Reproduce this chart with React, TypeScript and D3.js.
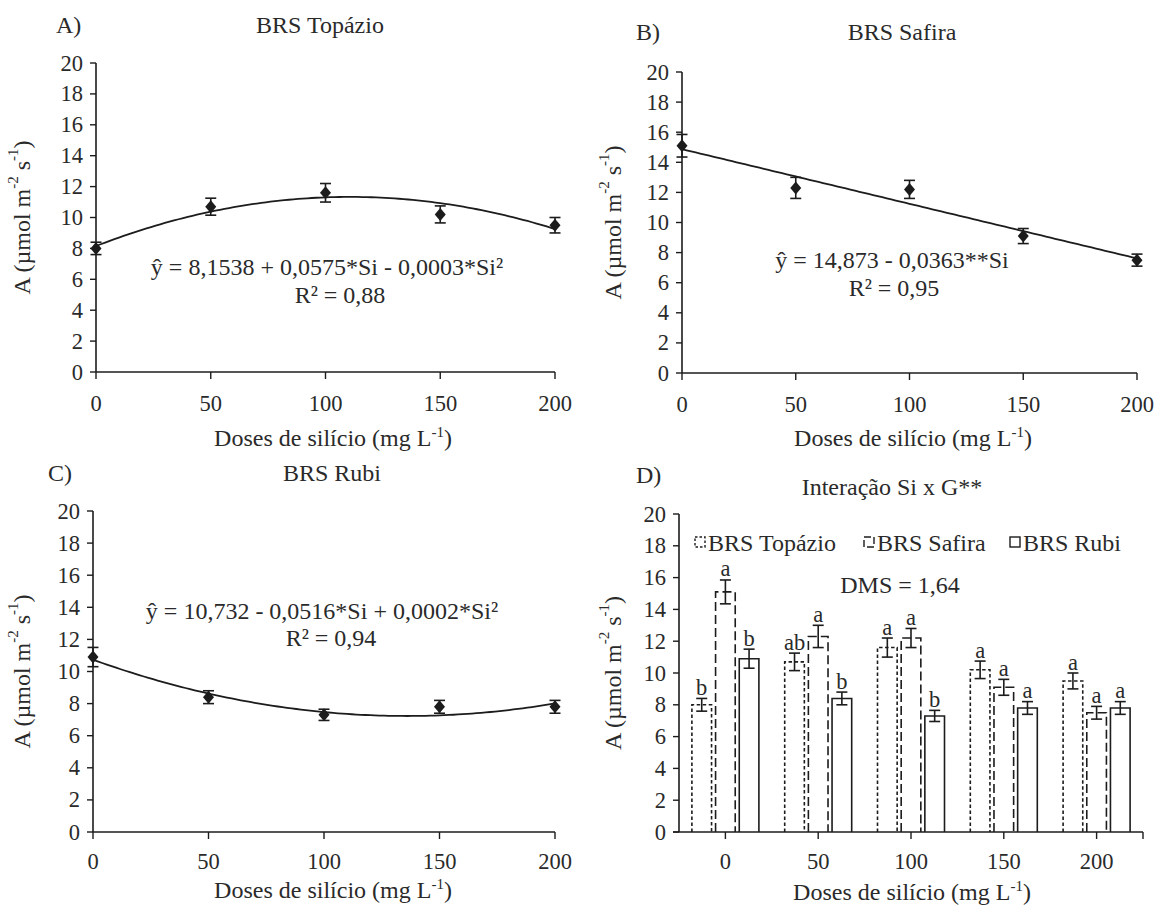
import React from "react";
import * as d3 from "d3";

const doses = [0, 50, 100, 150, 200];
const yTicks = [0, 2, 4, 6, 8, 10, 12, 14, 16, 18, 20];

const topazioMean = [8.0, 10.7, 11.6, 10.2, 9.5];
const topazioErr = [0.4, 0.55, 0.6, 0.55, 0.5];
const safiraMean = [15.1, 12.3, 12.2, 9.1, 7.5];
const safiraErr = [0.75, 0.7, 0.6, 0.5, 0.4];
const rubiMean = [10.9, 8.4, 7.3, 7.8, 7.8];
const rubiErr = [0.6, 0.4, 0.35, 0.4, 0.4];

const topazioLetters = ["b", "ab", "a", "a", "a"];
const safiraLetters = ["a", "a", "a", "a", "a"];
const rubiLetters = ["b", "b", "b", "a", "a"];

// fitted regression coefficients (a + b*Si + c*Si^2) used to draw the trend lines
const fitTopazio = [8.1538, 0.0575, -0.00026];
const fitSafira = [14.873, -0.0363, 0];
const fitRubi = [10.732, -0.0516, 0.00019];

const FONT = "'Liberation Serif', 'Times New Roman', serif";
const TXT = "#2a2a2a";
const LINE = "#1c1c1c";
const FS = 24;
const FT = 22.5;
const tStyle: React.CSSProperties = { fontFamily: FONT, fontSize: FS };
const tickStyle: React.CSSProperties = { fontFamily: FONT, fontSize: FT };

type Box = { x0: number; x1: number; yTop: number; yBot: number };

function YLabel({ x, y }: { x: number; y: number }) {
  return (
    <text
      transform={`translate(${x},${y}) rotate(-90)`}
      textAnchor="middle"
      style={tStyle}
      fill={TXT}
      dominantBaseline="middle"
    >
      A (µmol m
      <tspan style={{ fontSize: 15 }} dy={-9}>-2</tspan>
      <tspan dy={9}> s</tspan>
      <tspan style={{ fontSize: 15 }} dy={-9}>-1</tspan>
      <tspan dy={9}>)</tspan>
    </text>
  );
}

function XLabel({ x, y }: { x: number; y: number }) {
  return (
    <text x={x} y={y} textAnchor="middle" style={tStyle} fill={TXT}>
      Doses de silício (mg L
      <tspan style={{ fontSize: 15 }} dy={-9}>-1</tspan>
      <tspan dy={9}>)</tspan>
    </text>
  );
}

function YAxis({ y, x0 }: { y: d3.ScaleLinear<number, number>; x0: number }) {
  return (
    <g>
      <line x1={x0} x2={x0} y1={y(20)} y2={y(0)} stroke={LINE} strokeWidth={1.6} />
      {yTicks.map((t) => (
        <g key={t}>
          <line x1={x0 - 6} x2={x0} y1={y(t)} y2={y(t)} stroke={LINE} strokeWidth={1.4} />
          <text x={x0 - 13} y={y(t)} textAnchor="end" dominantBaseline="central" style={tickStyle} fill={TXT}>
            {t}
          </text>
        </g>
      ))}
    </g>
  );
}

function diamond(cx: number, cy: number, w: number, h: number) {
  const p = d3.path();
  p.moveTo(cx, cy - h);
  p.lineTo(cx + w, cy);
  p.lineTo(cx, cy + h);
  p.lineTo(cx - w, cy);
  p.closePath();
  return p.toString();
}

function ErrBar({ cx, y, m, e }: { cx: number; y: d3.ScaleLinear<number, number>; m: number; e: number }) {
  const cw = 5.5;
  return (
    <g stroke={LINE} strokeWidth={1.6}>
      <line x1={cx} x2={cx} y1={y(m + e)} y2={y(m - e)} />
      <line x1={cx - cw} x2={cx + cw} y1={y(m + e)} y2={y(m + e)} />
      <line x1={cx - cw} x2={cx + cw} y1={y(m - e)} y2={y(m - e)} />
    </g>
  );
}

type LineProps = {
  box: Box;
  mean: number[];
  err: number[];
  fit: number[];
  letter: string;
  letterX: number;
  letterY: number;
  title: string;
  titleX: number;
  titleY: number;
  eq: string;
  r2: string;
  eqX: number;
  eqY: number;
  r2X: number;
  r2Y: number;
  ylabX: number;
  tickY: number;
  labX: number;
  labY: number;
};

function LinePanel(p: LineProps) {
  const { box } = p;
  const x = d3.scaleLinear().domain([0, 200]).range([box.x0, box.x1]);
  const y = d3.scaleLinear().domain([0, 20]).range([box.yBot, box.yTop]);
  const xs = d3.range(0, 200.01, 2);
  const fitF = (s: number) => p.fit[0] + p.fit[1] * s + p.fit[2] * s * s;
  const line = d3
    .line<number>()
    .x((s) => x(s))
    .y((s) => y(fitF(s)));
  return (
    <g>
      <text x={p.letterX} y={p.letterY} style={tStyle} fill={TXT} dominantBaseline="central">
        {p.letter}
      </text>
      <text x={p.titleX} y={p.titleY} style={tStyle} fill={TXT} textAnchor="middle" dominantBaseline="central">
        {p.title}
      </text>
      <YAxis y={y} x0={box.x0} />
      <line x1={box.x0} x2={box.x1} y1={box.yBot} y2={box.yBot} stroke={LINE} strokeWidth={1.6} />
      {doses.map((d) => (
        <g key={d}>
          <line x1={x(d)} x2={x(d)} y1={box.yBot} y2={box.yBot + 7} stroke={LINE} strokeWidth={1.4} />
          <text x={x(d)} y={p.tickY} textAnchor="middle" dominantBaseline="central" style={tickStyle} fill={TXT}>
            {d}
          </text>
        </g>
      ))}
      <path d={line(xs) || ""} fill="none" stroke={LINE} strokeWidth={1.8} />
      {doses.map((d, i) => (
        <g key={"m" + d}>
          <ErrBar cx={x(d)} y={y} m={p.mean[i]} e={p.err[i]} />
          <path d={diamond(x(d), y(p.mean[i]), 5.5, 6.5)} fill={LINE} />
        </g>
      ))}
      <text x={p.eqX} y={p.eqY} textAnchor="middle" dominantBaseline="central" style={tStyle} fill={TXT}>
        {p.eq}
      </text>
      <text x={p.r2X} y={p.r2Y} textAnchor="middle" dominantBaseline="central" style={tStyle} fill={TXT}>
        {p.r2}
      </text>
      <YLabel x={p.ylabX} y={(box.yTop + box.yBot) / 2} />
      <XLabel x={p.labX} y={p.labY} />
    </g>
  );
}

const series = [
  { name: "BRS Topázio", mean: topazioMean, err: topazioErr, letters: topazioLetters, dash: "3.5,2.5" },
  { name: "BRS Safira", mean: safiraMean, err: safiraErr, letters: safiraLetters, dash: "9,4" },
  { name: "BRS Rubi", mean: rubiMean, err: rubiErr, letters: rubiLetters, dash: "" },
];

function BarPanel() {
  const box = { x0: 679, x1: 1143, yTop: 514, yBot: 832 };
  const x = d3.scaleLinear().domain([-25, 225]).range([box.x0, box.x1]);
  const y = d3.scaleLinear().domain([0, 20]).range([box.yBot, box.yTop]);
  const band = d3.scaleBand<string>().domain(series.map((s) => s.name)).range([-33.5, 33.5]).paddingInner(0.17);
  const bw = band.bandwidth();
  const legendItems = [
    { x: 695, s: series[0] },
    { x: 864, s: series[1] },
    { x: 1010, s: series[2] },
  ];
  return (
    <g>
      <text x={636} y={475} style={tStyle} fill={TXT} dominantBaseline="central">D)</text>
      <text x={892} y={487} style={tStyle} fill={TXT} textAnchor="middle" dominantBaseline="central">
        Interação Si x G**
      </text>
      {doses.map((d, i) => (
        <g key={d}>
          {series.map((s) => {
            const bx = x(d) + (band(s.name) as number);
            const cx = bx + bw / 2;
            const m = s.mean[i];
            return (
              <g key={s.name}>
                <path
                  d={`M${bx},${y(0)}V${y(m)}H${bx + bw}V${y(0)}`}
                  fill="#fff"
                  stroke={LINE}
                  strokeWidth={1.6}
                  strokeDasharray={s.dash || undefined}
                />
                <ErrBar cx={cx} y={y} m={m} e={s.err[i]} />
                <text
                  x={cx}
                  y={y(m + s.err[i]) - 11}
                  textAnchor="middle"
                  dominantBaseline="central"
                  style={tickStyle}
                  fill={TXT}
                >
                  {s.letters[i]}
                </text>
              </g>
            );
          })}
        </g>
      ))}
      <YAxis y={y} x0={box.x0} />
      <line x1={box.x0 - 6} x2={box.x1} y1={box.yBot} y2={box.yBot} stroke={LINE} strokeWidth={1.6} />
      {[...doses, 225].map((d) => (
        <line key={"t" + d} x1={x(d)} x2={x(d)} y1={box.yBot} y2={box.yBot + 7} stroke={LINE} strokeWidth={1.4} />
      ))}
      {doses.map((d) => (
        <text key={"l" + d} x={x(d)} y={861} textAnchor="middle" dominantBaseline="central" style={tickStyle} fill={TXT}>
          {d}
        </text>
      ))}
      {legendItems.map((it) => (
        <g key={it.s.name}>
          <rect
            x={it.x}
            y={537}
            width={10}
            height={10}
            fill="#fff"
            stroke={LINE}
            strokeWidth={1.4}
            strokeDasharray={it.s.dash ? (it.s.name === "BRS Topázio" ? "2.5,2" : "7,3") : undefined}
          />
          <text x={it.x + 13} y={543} style={tStyle} fill={TXT} dominantBaseline="central">
            {it.s.name}
          </text>
        </g>
      ))}
      <text x={900} y={585} textAnchor="middle" dominantBaseline="central" style={tStyle} fill={TXT}>
        DMS = 1,64
      </text>
      <YLabel x={615} y={(box.yTop + box.yBot) / 2} />
      <XLabel x={912} y={900} />
    </g>
  );
}

export default function App() {
  return (
    <svg width={1160} height={905} style={{ position: "absolute", left: 0, top: 0, background: "#fff" }}>
      <rect width={1160} height={905} fill="#fff" />
      <LinePanel
        box={{ x0: 96, x1: 555, yTop: 63, yBot: 372 }}
        mean={topazioMean}
        err={topazioErr}
        fit={fitTopazio}
        letter="A)"
        letterX={56}
        letterY={25}
        title="BRS Topázio"
        titleX={320}
        titleY={25}
        eq="ŷ =  8,1538 + 0,0575*Si - 0,0003*Si²"
        r2="R² = 0,88"
        eqX={327}
        eqY={267}
        r2X={340}
        r2Y={295}
        ylabX={24}
        tickY={403}
        labX={333}
        labY={446}
      />
      <LinePanel
        box={{ x0: 682, x1: 1137, yTop: 72, yBot: 373 }}
        mean={safiraMean}
        err={safiraErr}
        fit={fitSafira}
        letter="B)"
        letterX={636}
        letterY={32}
        title="BRS Safira"
        titleX={902}
        titleY={32}
        eq="ŷ = 14,873 - 0,0363**Si"
        r2="R² = 0,95"
        eqX={892}
        eqY={260}
        r2X={894}
        r2Y={288}
        ylabX={615}
        tickY={404}
        labX={913}
        labY={446}
      />
      <LinePanel
        box={{ x0: 93, x1: 555, yTop: 511, yBot: 832 }}
        mean={rubiMean}
        err={rubiErr}
        fit={fitRubi}
        letter="C)"
        letterX={48}
        letterY={473}
        title="BRS Rubi"
        titleX={332}
        titleY={473}
        eq="ŷ = 10,732 - 0,0516*Si + 0,0002*Si²"
        r2="R² = 0,94"
        eqX={322}
        eqY={611}
        r2X={331}
        r2Y={638}
        ylabX={24}
        tickY={861}
        labX={333}
        labY={898}
      />
      <BarPanel />
    </svg>
  );
}
